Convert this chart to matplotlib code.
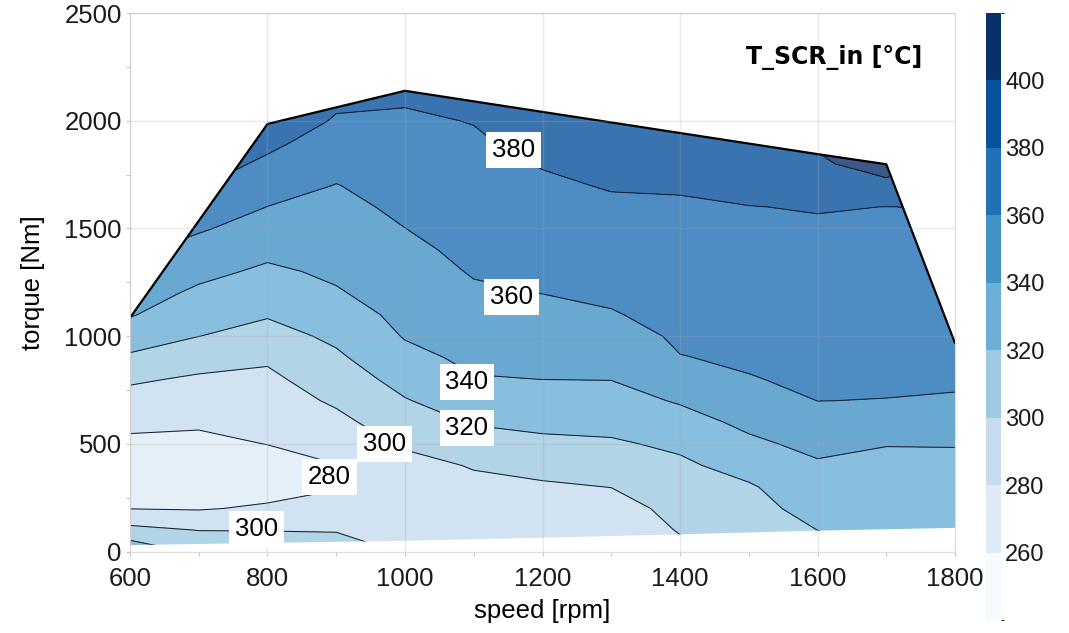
import numpy as np
import matplotlib.pyplot as plt
from matplotlib.colors import ListedColormap, BoundaryNorm
from matplotlib.cm import ScalarMappable
from matplotlib.patches import Polygon
from matplotlib.ticker import MultipleLocator

plt.rcParams['font.family'] = ['Liberation Sans', 'DejaVu Sans']

# map grid: engine speed [rpm] x torque [Nm]
speed = [600, 700, 800, 900, 1000, 1100, 1200, 1300, 1400, 1500, 1600, 1700, 1800]
torque = [0, 100, 200, 300, 400, 500, 600, 700, 800, 900, 1000, 1100,
          1200, 1300, 1400, 1500, 1600, 1700, 1800, 1900, 2000, 2100, 2200]

# T_SCR_in [degC], one list per speed, torque going up
t600 = [336, 305.5, 279.5, 272, 269, 276, 284.4, 293, 302.7, 317, 330, 341.4, 348.7, 355.9, 363, 367, 373, 379, 385, 390, 394, 398, 401]
t700 = [316, 299.5, 278.5, 271, 268, 275, 282.8, 290.1, 297.4, 308, 320.2, 328.4, 336.6, 344.9, 353.3, 362, 371.7, 381.4, 388, 393, 397, 400, 403]
t800 = [310, 299.5, 282.7, 272, 271, 280.4, 285.7, 290.9, 296.2, 302.6, 312.5, 321.7, 329.3, 336.8, 344.5, 352.2, 359.8, 368.3, 376.8, 384, 391, 397, 403]
t900 = [306, 299.3, 288.8, 278.5, 279.5, 287.1, 295.1, 302.7, 309.7, 316.8, 323.9, 331.1, 338.3, 343.2, 347.3, 351.4, 355.5, 359.5, 365.7, 372.1, 378.5, 383, 388]
t1000 = [299, 292, 288, 289, 294, 302.4, 310.6, 318.8, 326.7, 334.7, 341.2, 345, 348.7, 352.4, 356.2, 359.9, 363.4, 367, 370.5, 374.1, 377.7, 381.5, 386]
t1100 = [291, 290, 291, 295.5, 301.3, 311.5, 321.4, 330.1, 338.9, 344, 348.5, 353, 357.6, 361.3, 364.1, 366.8, 369.6, 372.3, 375.1, 377.8, 380.6, 384, 388]
t1200 = [290, 290, 292, 297.3, 306.6, 316, 324.5, 332.3, 340.1, 345.1, 350.2, 355.2, 360.2, 363.6, 367, 370.4, 373.8, 377.3, 381, 385, 389, 393, 397]
t1300 = [290, 289, 291.6, 300.3, 309, 317.7, 325.5, 333, 340.4, 346.6, 352.7, 358.9, 362.9, 366.5, 370, 373.6, 377.2, 381.2, 385, 389, 393, 397, 401]
t1400 = [296, 301.1, 306.3, 311.5, 316.7, 323.4, 332.6, 341.7, 350.2, 359.5, 362.5, 365, 367.5, 370, 372.5, 376, 378.8, 381, 385, 389, 393, 397, 401]
t1500 = [302, 309, 314.5, 318, 327.1, 336.3, 344.2, 351.4, 359.3, 362, 364.6, 367.1, 369.6, 372.2, 374.7, 377.2, 379.7, 384.5, 389, 394, 399, 404, 408]
t1600 = [314, 320.1, 325.9, 331.9, 337.8, 344.9, 352.6, 360.1, 362.4, 364.7, 366.9, 369.2, 371.5, 373.8, 376, 378.3, 380.8, 389.2, 396.6, 403, 408, 412, 416]
t1700 = [321, 323, 325, 328, 332, 341.2, 350.5, 359.7, 362.1, 364.3, 366.6, 368.8, 371, 373.2, 375.4, 377.6, 379.9, 394.5, 410, 414, 417, 419, 419.5]
t1800 = [322, 324, 327, 330.5, 334.5, 341.1, 349.1, 358.5, 362.2, 365.5, 368.8, 371.5, 374, 376, 377.5, 379, 380.5, 386, 392, 398, 404, 410, 415]

# operating envelope (full load curve and lower edge)
env_top_speed = [600, 800, 1000, 1600, 1700, 1800]
env_top_torque = [1085, 1985, 2139, 1845, 1798, 967]
env_bot_speed = [1800, 1600, 1400, 1200, 1000, 600]
env_bot_torque = [110, 97, 80, 64, 50, 30]

levels = [240, 260, 280, 300, 320, 340, 360, 380, 400, 420]
cb_ticks = [260, 280, 300, 320, 340, 360, 380, 400]
blues9 = ['#f7fbff', '#deebf7', '#c6dbef', '#9ecae1', '#6baed6',
          '#4292c6', '#2171b5', '#08519c', '#08306b']

Z = np.array([t600, t700, t800, t900, t1000, t1100, t1200, t1300, t1400,
              t1500, t1600, t1700, t1800]).T
S, T = np.meshgrid(speed, torque)

fig = plt.figure(figsize=(10.69, 6.33), dpi=100)
ax = fig.add_axes([0.1216, 0.1287, 0.7718, 0.8507])

env = Polygon(np.column_stack([env_top_speed + env_bot_speed,
                               env_top_torque + env_bot_torque]),
              closed=True, facecolor='none', edgecolor='none')
ax.add_patch(env)

cf = ax.contourf(S, T, Z, levels=levels, colors=blues9, alpha=0.8)
cf.set_clip_path(env)
cs = ax.contour(S, T, Z, levels=levels[1:-1], colors='#1b2230', linewidths=0.75)
cs.set_clip_path(env)

ax.plot(env_top_speed, env_top_torque, color='black', lw=1.6, solid_capstyle='round')

# contour labels, horizontal in white boxes
label_pos = [(1158, 1864), (1155, 1182), (1090, 787), (1090, 573),
             (970, 499), (890, 346), (784, 104)]
texts = ax.clabel(cs, manual=label_pos, inline=False, fontsize=18.5,
                  fmt='%d', colors='black')
for t, pos in zip(texts, label_pos):
    t.set_rotation(0)
    t.set_position(pos)
    t.set_bbox(dict(boxstyle='square,pad=0.22', facecolor='white', edgecolor='none'))
    t.set_zorder(5)

ax.set_xlim(600, 1800)
ax.set_ylim(0, 2500)
ax.xaxis.set_major_locator(MultipleLocator(200))
ax.xaxis.set_minor_locator(MultipleLocator(100))
ax.yaxis.set_major_locator(MultipleLocator(500))
ax.yaxis.set_minor_locator(MultipleLocator(250))
ax.set_axisbelow(False)
ax.grid(which='major', color='#a8a8a8', alpha=0.25, lw=1.0)
ax.tick_params(which='both', direction='out', length=3, width=0.8, color='#c8c8c8',
               labelsize=18.5, labelcolor='#1a1a1a')
ax.tick_params(axis='x', which='major', pad=8)
ax.tick_params(axis='y', which='major', pad=3)
for sp in ax.spines.values():
    sp.set_color('#dedede')
    sp.set_linewidth(0.8)

ax.set_xlabel('speed [rpm]', fontsize=18.5, labelpad=6)
ax.set_ylabel('torque [Nm]', fontsize=18.5, labelpad=14)

ax.text(0.96, 0.918, 'T_SCR_in [°C]', transform=ax.transAxes, ha='right', va='center',
        fontsize=17, fontweight='bold', family='DejaVu Sans')

# colorbar
cax = fig.add_axes([0.9224, 0.0205, 0.0140, 0.9589])
sm = ScalarMappable(norm=BoundaryNorm(levels, len(blues9)), cmap=ListedColormap(blues9))
cb = fig.colorbar(sm, cax=cax, ticks=cb_ticks)
cb.outline.set_visible(False)
cax.tick_params(length=0, labelsize=17, pad=3, labelcolor='#1a1a1a')

fig.savefig('out.png', dpi=100)
